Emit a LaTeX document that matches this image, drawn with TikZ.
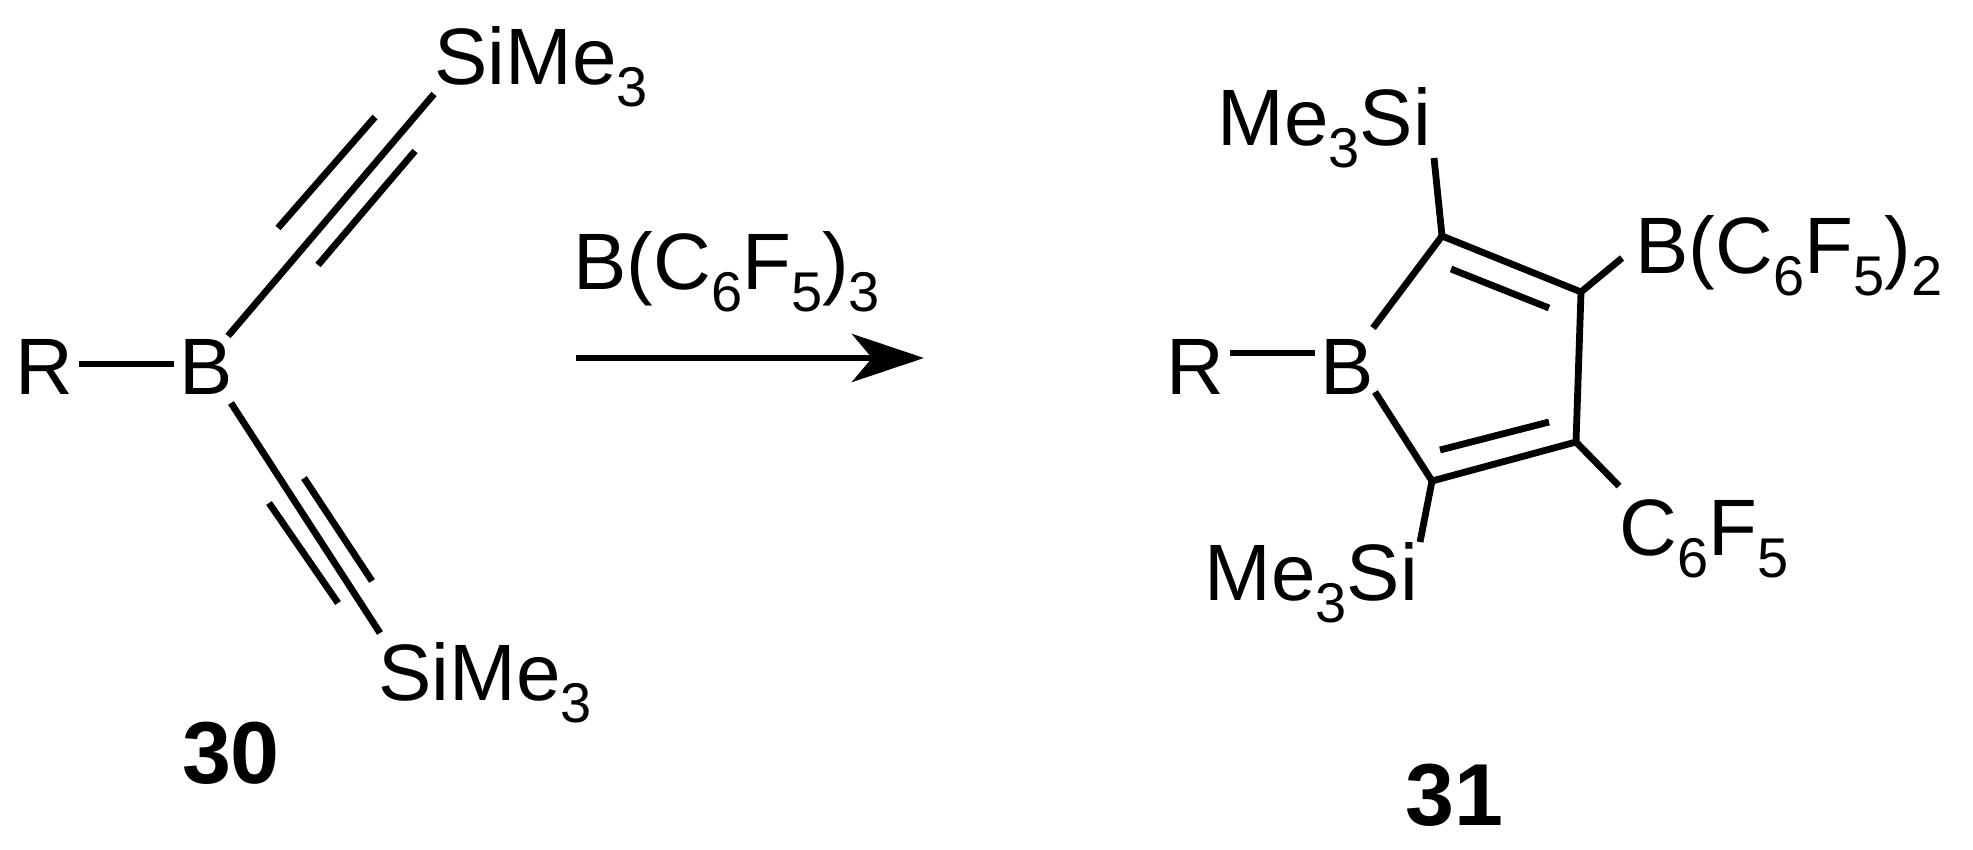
\documentclass[tikz,border=0pt]{standalone}
\usepackage{fontspec}
\setmainfont{Liberation Sans}
\usetikzlibrary{arrows.meta}
\newcommand\sbs[1]{\raisebox{-0.28em}{\fontsize{28}{30}\selectfont #1}}
\tikzset{
  bond/.style={line width=3.4pt},
  atom/.style={inner sep=0pt, font=\fontsize{40}{48}\selectfont},
  cmpd/.style={inner sep=0pt, font=\fontsize{44}{50}\selectfont\bfseries}
}

\begin{document}
\begin{tikzpicture}[x=0.5pt,y=-0.5pt]
	\useasboundingbox (0,0) rectangle (1973,850);
	% compound 30
	\node [atom] (R1) at(44,367) {R};
	\node [atom] (B1) at(206,367) {B};
	\node [atom, anchor=west] (Si1) at(434,67) {SiMe\sbs{3}};
	\node [atom, anchor=west] (Si2) at(378,683) {SiMe\sbs{3}};
	\node [cmpd] (n30) at(231,753) {30};
	\coordinate (a1) at(79,364);
	\coordinate (a2) at(174,364);
	\coordinate (t1) at(228,336);
	\coordinate (t2) at(434,94);
	\coordinate (u1) at(231,403);
	\coordinate (u2) at(380,633);
	\draw [bond] (a1)--(a2);
	\draw [bond] (t1)--(t2);
	\draw [bond] (278,228)--(375,117);
	\draw [bond] (318,265)--(415,151);
	\draw [bond] (u1)--(u2);
	\draw [bond] (269,503)--(338,603);
	\draw [bond] (304,478)--(372,581);
	% arrow
	\node [atom, anchor=west] (reag) at(573,272) {B(C\sbs{6}F\sbs{5})\sbs{3}};
	\coordinate (ar1) at(576,358);
	\coordinate (ar2) at(924,358);
	\draw [line width=3.4pt, -{Stealth[length=36pt,width=24pt,inset=10pt]}] (ar1)--(ar2);
	% compound 31
	\node [atom] (R2) at(1195,367) {R};
	\node [atom] (B2) at(1347,367) {B};
	\node [atom, anchor=west] (Si3) at(1217,128) {Me\sbs{3}Si};
	\node [atom, anchor=west] (BAr) at(1635,256) {B(C\sbs{6}F\sbs{5})\sbs{2}};
	\node [atom, anchor=west] (Ar) at(1619,539) {C\sbs{6}F\sbs{5}};
	\node [atom, anchor=west] (Si4) at(1204,583) {Me\sbs{3}Si};
	\node [cmpd] (n31) at(1454,795) {31};
	\coordinate (C2) at(1442,236);
	\coordinate (C3) at(1581,292);
	\coordinate (C4) at(1576,442);
	\coordinate (C5) at(1432,481);
	\draw [bond] (1230,353)--(1315,353);
	\draw [bond, line join=round] (1373,328)--(C2)--(C3)--(C4)--(C5)--(1375,392);
	\draw [bond] (1451,269)--(1549,308);
	\draw [bond] (1440,450)--(1549,422);
	\draw [bond] (C2)--(1434,158);
	\draw [bond] (C3)--(1622,258);
	\draw [bond] (C4)--(1619,486);
	\draw [bond] (C5)--(1420,542);
\end{tikzpicture}
\end{document}
